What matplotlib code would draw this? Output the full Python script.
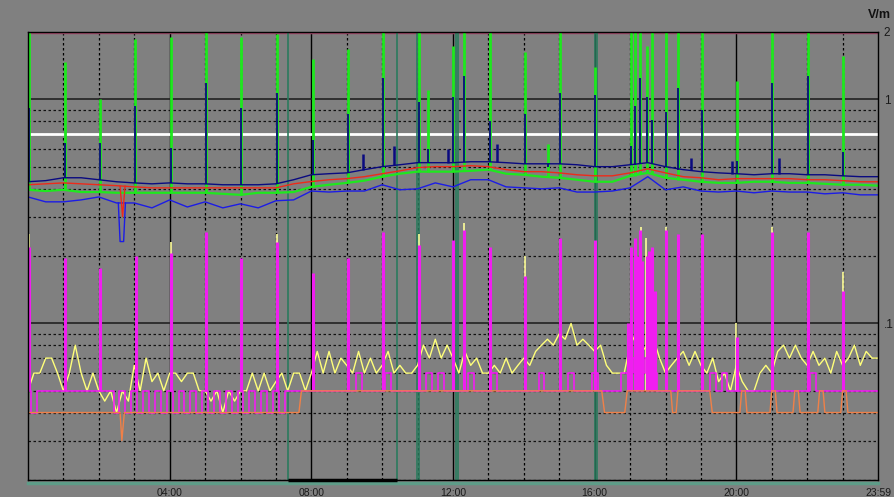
import matplotlib.pyplot as plt
import numpy as np

plt.rcParams['font.family'] = ['Liberation Sans', 'DejaVu Sans']

# field strength log over one day, values in V/m, time in hours
t_half = np.arange(0, 24.01, 0.5)
t_10 = np.arange(0, 24.01, 1 / 6)

red_v = [0.416, 0.420, 0.424, 0.420, 0.416, 0.412, 0.407, 0.403,
         0.403, 0.403, 0.403, 0.403, 0.403, 0.403, 0.403, 0.420,
         0.430, 0.438, 0.443, 0.452, 0.466, 0.480, 0.496, 0.501,
         0.501, 0.506, 0.501, 0.486, 0.476, 0.476, 0.470, 0.461,
         0.456, 0.456, 0.470, 0.490, 0.470, 0.452, 0.447, 0.438,
         0.443, 0.443, 0.443, 0.443, 0.438, 0.438, 0.434, 0.429,
         0.429]
green_v = [0.395, 0.390, 0.395, 0.386, 0.386, 0.383, 0.383, 0.383,
           0.383, 0.383, 0.383, 0.379, 0.375, 0.383, 0.383, 0.386,
           0.407, 0.416, 0.424, 0.434, 0.452, 0.466, 0.476, 0.476,
           0.476, 0.480, 0.486, 0.466, 0.461, 0.452, 0.447, 0.438,
           0.429, 0.429, 0.456, 0.470, 0.447, 0.438, 0.429, 0.424,
           0.424, 0.429, 0.429, 0.424, 0.424, 0.420, 0.416, 0.416,
           0.412]
navy_v = [0.429, 0.434, 0.447, 0.447, 0.438, 0.429, 0.424, 0.420,
          0.424, 0.420, 0.420, 0.416, 0.416, 0.416, 0.420, 0.438,
          0.461, 0.466, 0.470, 0.486, 0.501, 0.511, 0.522, 0.522,
          0.522, 0.527, 0.527, 0.522, 0.516, 0.516, 0.516, 0.511,
          0.501, 0.501, 0.511, 0.522, 0.501, 0.486, 0.476, 0.470,
          0.466, 0.461, 0.466, 0.466, 0.461, 0.461, 0.456, 0.452,
          0.452]
blue_v = [0.367, 0.349, 0.349, 0.356, 0.367, 0.345, 0.345, 0.328,
          0.356, 0.331, 0.349, 0.328, 0.342, 0.328, 0.353, 0.356,
          0.390, 0.386, 0.390, 0.390, 0.416, 0.395, 0.399, 0.424,
          0.407, 0.438, 0.438, 0.407, 0.403, 0.399, 0.403, 0.386,
          0.386, 0.390, 0.403, 0.452, 0.395, 0.407, 0.390, 0.386,
          0.390, 0.383, 0.390, 0.386, 0.386, 0.379, 0.383, 0.375,
          0.375]

# short drop-outs around 02:39
blue_dip_t = [2.55, 2.60, 2.70, 2.75]
blue_dip_v = [0.345, 0.232, 0.232, 0.345]
red_dip_t = [2.60, 2.67, 2.74]
red_dip_v = [0.410, 0.300, 0.410]

# hourly peaks
spike_t = [0.04, 1.05, 2.02, 3.02, 4.04, 5.03, 6.01, 7.03,
           8.04, 9.03, 10.03, 11.04, 11.29, 12.00, 12.31, 13.04,
           14.03, 14.68, 15.02, 16.01, 17.04, 17.14, 17.28, 17.47,
           17.61, 18.01, 18.36, 19.02, 20.01, 21.00, 22.01, 23.02]
green_top = [2.0, 1.47, 1.0, 1.86, 1.9, 2.0, 1.9, 1.96,
             1.51, 1.68, 2.0, 2.0, 1.1, 1.73, 2.0, 2.0,
             1.62, 0.63, 2.0, 1.4, 2.0, 2.0, 2.0, 1.73,
             2.0, 2.0, 2.0, 2.0, 1.21, 2.0, 2.0, 1.56]
navy_top = [0.92, 0.64, 0.64, 0.93, 0.61, 1.19, 0.92, 1.07,
            0.66, 0.86, 1.25, 0.97, 0.60, 1.03, 1.27, 0.80,
            0.86, 0.50, 1.07, 1.05, 0.62, 0.93, 1.25, 1.03,
            0.81, 0.88, 1.13, 0.90, 0.53, 1.19, 1.27, 0.58]
navy_bump_t = [9.47, 10.33, 11.86, 13.24, 18.72, 19.88, 21.2]
navy_bump_top = [0.57, 0.62, 0.60, 0.63, 0.55, 0.53, 0.55]

mag_t = [0.04, 1.05, 2.02, 3.05, 4.04, 5.03, 6.01, 7.03,
         8.04, 9.03, 10.03, 11.04, 12.00, 12.31, 13.04, 14.03,
         15.02, 16.01, 16.95, 17.04, 17.14, 17.20, 17.28, 17.35,
         17.47, 17.53, 17.61, 17.70, 18.01, 18.36, 19.02, 20.01,
         21.00, 22.01, 23.02]
mag_top = [0.22, 0.196, 0.177, 0.20, 0.206, 0.256, 0.196, 0.23,
           0.168, 0.196, 0.256, 0.224, 0.236, 0.26, 0.22, 0.163,
           0.24, 0.236, 0.10, 0.22, 0.24, 0.20, 0.26, 0.19,
           0.20, 0.21, 0.22, 0.14, 0.26, 0.25, 0.25, 0.087,
           0.256, 0.256, 0.14]
yel_t = [0.03, 4.03, 7.02, 11.03, 12.30, 14.02, 17.30, 17.45, 18.00, 20.00, 21.00, 23.01]
yel_top = [0.25, 0.23, 0.25, 0.25, 0.28, 0.20, 0.27, 0.24, 0.27, 0.10, 0.27, 0.17]

yellow_v = [0.05, 0.06, 0.06, 0.07, 0.07, 0.06,
            0.05, 0.06, 0.08, 0.06, 0.05, 0.06,
            0.05, 0.045, 0.05, 0.04, 0.05, 0.045,
            0.065, 0.05, 0.07, 0.055, 0.06, 0.05,
            0.06, 0.06, 0.055, 0.06, 0.06, 0.05,
            0.05, 0.045, 0.05, 0.04, 0.05, 0.045,
            0.05, 0.05, 0.06, 0.05, 0.06, 0.05,
            0.055, 0.06, 0.05, 0.06, 0.06, 0.05,
            0.06, 0.075, 0.06, 0.075, 0.06, 0.07,
            0.065, 0.06, 0.075, 0.06, 0.07, 0.06,
            0.065, 0.075, 0.06, 0.065, 0.06, 0.06,
            0.065, 0.08, 0.07, 0.085, 0.07, 0.08,
            0.07, 0.06, 0.075, 0.065, 0.07, 0.06,
            0.06, 0.065, 0.06, 0.07, 0.06, 0.065,
            0.07, 0.065, 0.075, 0.08, 0.085, 0.08,
            0.09, 0.085, 0.10, 0.08, 0.085, 0.08,
            0.075, 0.08, 0.065, 0.06, 0.06, 0.06,
            0.08, 0.09, 0.075, 0.08, 0.085, 0.07,
            0.06, 0.065, 0.07, 0.075, 0.065, 0.075,
            0.065, 0.06, 0.07, 0.055, 0.06, 0.05,
            0.065, 0.055, 0.05, 0.05, 0.06, 0.065,
            0.06, 0.075, 0.08, 0.07, 0.08, 0.07,
            0.065, 0.075, 0.065, 0.07, 0.06, 0.075,
            0.065, 0.07, 0.08, 0.065, 0.075, 0.07,
            0.07]
magenta_v = [0.05, 0.04, 0.05, 0.05, 0.05, 0.05,
             0.05, 0.05, 0.05, 0.05, 0.05, 0.05,
             0.05, 0.05, 0.05, 0.04, 0.05, 0.04,
             0.05, 0.04, 0.05, 0.04, 0.05, 0.04,
             0.05, 0.04, 0.05, 0.04, 0.05, 0.04,
             0.05, 0.04, 0.05, 0.04, 0.05, 0.04,
             0.05, 0.04, 0.05, 0.04, 0.05, 0.04,
             0.05, 0.04, 0.05, 0.05, 0.05, 0.05,
             0.05, 0.05, 0.05, 0.05, 0.05, 0.05,
             0.05, 0.05, 0.06, 0.05, 0.05, 0.05,
             0.05, 0.06, 0.05, 0.05, 0.05, 0.05,
             0.05, 0.05, 0.06, 0.05, 0.06, 0.05,
             0.05, 0.05, 0.05, 0.06, 0.05, 0.05,
             0.05, 0.06, 0.05, 0.05, 0.05, 0.05,
             0.05, 0.05, 0.05, 0.06, 0.05, 0.05,
             0.05, 0.05, 0.06, 0.05, 0.05, 0.05,
             0.06, 0.05, 0.05, 0.05, 0.05, 0.06,
             0.06, 0.07, 0.06, 0.07, 0.06, 0.05,
             0.05, 0.05, 0.05, 0.05, 0.05, 0.05,
             0.05, 0.05, 0.06, 0.05, 0.06, 0.05,
             0.05, 0.05, 0.05, 0.05, 0.05, 0.05,
             0.05, 0.05, 0.05, 0.05, 0.05, 0.05,
             0.05, 0.06, 0.05, 0.05, 0.05, 0.05,
             0.05, 0.05, 0.05, 0.05, 0.05, 0.05,
             0.05]
orange_t = [0, 2.60, 2.65, 2.72, 7.65, 7.72, 16.20, 16.28, 16.85, 16.92,
            18.15, 18.20, 18.30, 18.35, 19.25, 19.32, 20.10, 20.15, 20.25, 20.30,
            20.95, 21.00, 21.10, 21.15, 21.60, 21.65, 21.75, 21.80, 22.30, 22.35,
            22.45, 22.50, 22.95, 23.00, 23.10, 23.15, 24]
orange_v = [0.04, 0.04, 0.03, 0.04, 0.04, 0.05, 0.05, 0.04, 0.04, 0.05,
            0.05, 0.04, 0.04, 0.05, 0.05, 0.04, 0.04, 0.05, 0.05, 0.04,
            0.04, 0.05, 0.05, 0.04, 0.04, 0.05, 0.05, 0.04, 0.04, 0.05,
            0.05, 0.04, 0.04, 0.05, 0.05, 0.04, 0.04]

limit_v = 0.7
top_v = 2.0
marker_t = [7.35, 10.43, 10.97, 11.03, 12.08, 12.13, 16.01, 16.06]
bar_span = [7.35, 10.43]

x_ticks = [4, 8, 12, 16, 20, 24]
x_labels = ['04:00', '08:00', '12:00', '16:00', '20:00', '23:59']
y_ticks = [0.1, 1, 2]
y_labels = ['.1', '1', '2']

BG = '#808080'
fig = plt.figure(figsize=(8.94, 4.97), dpi=100, facecolor=BG)
ax = fig.add_axes([28 / 894, 17 / 497, 850 / 894, 448 / 497])
ax.set_facecolor(BG)
ax.set_yscale('log')
ax.set_xlim(0, 24)
ax.set_ylim(0.02, 2)

# grid
for h in range(1, 24):
    if h % 4 == 0:
        ax.axvline(h, color='black', lw=1.0, zorder=1)
    else:
        ax.axvline(h, color='black', lw=0.9, ls=(0, (2, 2)), zorder=1)
for d in (0.01, 0.1):
    for k in range(2, 10):
        if d * k >= 0.02:
            ax.axhline(d * k, color='#111111', lw=0.9, ls=(0, (2, 2)), zorder=1)
for v in (0.1, 1):
    ax.axhline(v, color='#222222', lw=1.2, zorder=1)

ax.axhline(top_v, color='#a04868', lw=2.5, zorder=2)
ax.axhline(limit_v, color='white', lw=2.0, zorder=2)

# event markers
for t in marker_t:
    ax.axvline(t, color='#2b7b5e', lw=1.2, zorder=2)

# lower band
ax.plot(t_10, yellow_v, color='#ffff7a', lw=1.0, zorder=3)
ax.vlines(yel_t, 0.05, yel_top, color='#ffff9a', lw=1.2, zorder=3)
ax.plot(t_10, magenta_v, color='#f01ef0', lw=1.2, drawstyle='steps-mid', zorder=4)
ax.vlines(mag_t, 0.05, mag_top, color='#f01ef0', lw=2.2, zorder=4)
ax.plot(orange_t, orange_v, color='#f08048', lw=1.0, zorder=5)

# upper band
idx = np.rint(np.array(spike_t) * 2).astype(int)
ax.plot(t_half, blue_v, color='#1c1ce6', lw=1.0, zorder=5)
ax.plot(blue_dip_t, blue_dip_v, color='#1c1ce6', lw=1.0, zorder=5)
ax.plot(t_half, green_v, color='#1ee81e', lw=1.6, zorder=6)
ax.vlines(spike_t, np.array(green_v)[idx], green_top, color='#1ee81e', lw=2.0, zorder=6)
ax.plot(t_half, red_v, color='#ee2a1a', lw=1.0, zorder=7)
ax.plot(red_dip_t, red_dip_v, color='#ee2a1a', lw=1.0, zorder=7)
ax.plot(t_half, navy_v, color='#0a0a80', lw=1.0, zorder=8)
ax.vlines(spike_t, np.array(navy_v)[idx], navy_top, color='#0a0a80', lw=1.3, zorder=8)
ax.vlines(navy_bump_t, np.array(navy_v)[np.rint(np.array(navy_bump_t) * 2).astype(int)],
          navy_bump_top, color='#0a0a80', lw=1.8, zorder=8)

# axis frame
for s in ax.spines.values():
    s.set_color('black')
    s.set_linewidth(1.0)
    s.set_zorder(10)
ax.plot([0, 1], [-0.006, -0.006], transform=ax.transAxes, color='#5e9c88',
        lw=2.5, clip_on=False, zorder=9)
ax.hlines(0.02, bar_span[0], bar_span[1], color='black', lw=2.5, clip_on=False, zorder=11)

ax.set_xticks(x_ticks, x_labels)
ax.yaxis.tick_right()
ax.set_yticks(y_ticks, y_labels)
ax.yaxis.set_minor_locator(plt.NullLocator())
ax.tick_params(axis='x', length=0, labelsize=7.5, colors='#1a1a1a', pad=6)
ax.tick_params(axis='y', length=0, labelsize=8.5, colors='#1a1a1a', pad=4)

fig.text(891 / 894, 1 - 15 / 497, 'V/m', fontsize=9, fontweight='bold',
         color='#111111', va='center', ha='right')

fig.savefig('out.png', dpi=100, facecolor=BG)
